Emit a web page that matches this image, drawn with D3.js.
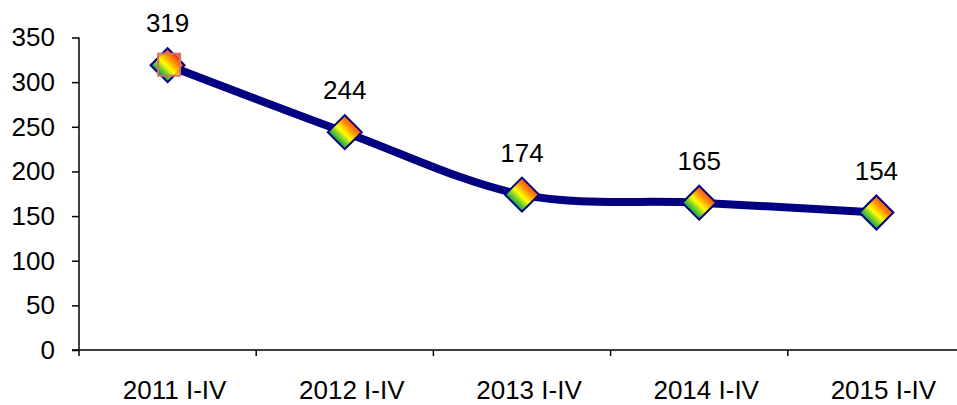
<!DOCTYPE html>
<html>
<head>
<meta charset="utf-8">
<script src="https://d3js.org/d3.v7.min.js"></script>
<style>
  body { margin: 0; background: #fff; }
  svg { display: block; font-family: Arial, "Liberation Sans", sans-serif; }
  .axis path, .axis line { stroke: #000; stroke-width: 1.5px; }
  .axis text { font-size: 26px; fill: #000; }
</style>
</head>
<body>
<svg width="957" height="405"></svg>
<script>
// chart values
var categories = ["2011 I-IV", "2012 I-IV", "2013 I-IV", "2014 I-IV", "2015 I-IV"];
var values = [319, 244, 174, 165, 154];
var yTicks = [0, 50, 100, 150, 200, 250, 300, 350];

var svg = d3.select("svg");

var x = d3.scaleBand().domain(categories).range([79, 79 + 5 * 177.2]);
var y = d3.scaleLinear().domain([0, 350]).range([350, 37.5]);

// gradient for the diamond markers, green bottom-left to orange top-right
var defs = svg.append("defs");
var grad = defs.append("linearGradient")
  .attr("id", "mk")
  .attr("gradientUnits", "userSpaceOnUse")
  .attr("x1", -8.5).attr("y1", 8.5).attr("x2", 8.5).attr("y2", -8.5);
grad.append("stop").attr("offset", "0").attr("stop-color", "#00a850");
grad.append("stop").attr("offset", "0.2").attr("stop-color", "#70c830");
grad.append("stop").attr("offset", "0.45").attr("stop-color", "#ffff00");
grad.append("stop").attr("offset", "0.72").attr("stop-color", "#ffa000");
grad.append("stop").attr("offset", "1").attr("stop-color", "#ff4a10");

// y axis
var yAxis = svg.append("g")
  .attr("class", "axis")
  .attr("transform", "translate(79,0)")
  .call(d3.axisLeft(y).tickValues(yTicks).tickSize(7).tickPadding(17).tickSizeOuter(0));
yAxis.select(".domain").attr("d", "M0," + y(350) + "V" + y(0));

// x axis, boundary ticks between the categories
var xAxis = svg.append("g")
  .attr("class", "axis")
  .attr("transform", "translate(0," + y(0) + ")");
xAxis.append("line").attr("x1", 72).attr("x2", 957).attr("y1", 0).attr("y2", 0);
xAxis.selectAll(".tk")
  .data(categories.slice(1))
  .enter().append("line")
  .attr("class", "tk")
  .attr("x1", function(d) { return x(d); })
  .attr("x2", function(d) { return x(d); })
  .attr("y1", 0).attr("y2", 6);
xAxis.append("line").attr("x1", 79).attr("x2", 79).attr("y1", 0).attr("y2", 6);
xAxis.selectAll("text")
  .data(categories)
  .enter().append("text")
  .attr("x", function(d) { return x(d) + x.bandwidth() / 2 + 7; })
  .attr("y", 49)
  .attr("text-anchor", "middle")
  .text(function(d) { return d; });

var pts = categories.map(function(c, i) { return [x(c) + x.bandwidth() / 2, y(values[i])]; });

// the line (smoothed like the office chart)
svg.append("path")
  .datum(pts)
  .attr("fill", "none")
  .attr("stroke", "#000080")
  .attr("stroke-width", 8)
  .attr("stroke-linejoin", "round")
  .attr("d", d3.line().curve(d3.curveCardinal.tension(0)));

// markers
svg.selectAll(".mk")
  .data(pts)
  .enter().append("path")
  .attr("class", "mk")
  .attr("transform", function(d) { return "translate(" + d[0] + "," + d[1] + ")"; })
  .attr("d", "M0,-17L17,0L0,17L-17,0Z")
  .attr("fill", "url(#mk)")
  .attr("stroke", "#000080")
  .attr("stroke-width", 2);

// odd overlay square on the first point
svg.append("rect")
  .attr("transform", "translate(" + pts[0][0] + "," + pts[0][1] + ")")
  .attr("x", -9.5).attr("y", -11.5)
  .attr("width", 22).attr("height", 22)
  .attr("fill", "url(#mk)")
  .attr("fill-opacity", 0.85)
  .attr("stroke", "#d8706a")
  .attr("stroke-width", 2);

// value labels
svg.selectAll(".val")
  .data(values)
  .enter().append("text")
  .attr("class", "val")
  .attr("x", function(d, i) { return pts[i][0]; })
  .attr("y", function(d, i) { return pts[i][1] - 33; })
  .attr("text-anchor", "middle")
  .style("font-size", "26px")
  .text(function(d) { return d; });
</script>
</body>
</html>
